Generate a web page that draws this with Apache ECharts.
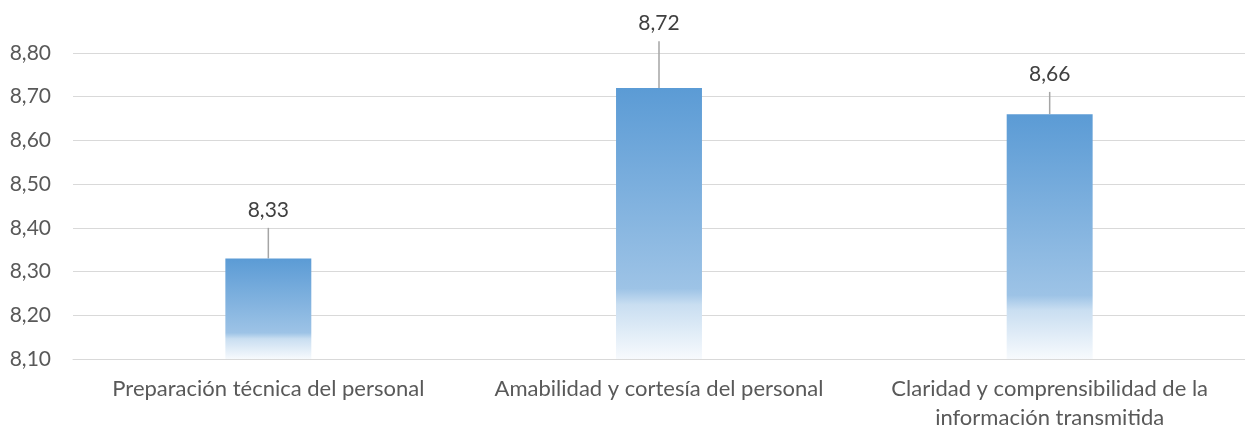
<!DOCTYPE html>
<html>
<head>
<meta charset="utf-8">
<style>
  html, body { margin: 0; padding: 0; background: #fff; }
  #chart { width: 1245px; height: 429px; }
</style>
<script src="https://cdn.jsdelivr.net/npm/echarts@6/dist/echarts.min.js"></script>
</head>
<body>
<div id="chart"></div>
<script>
// categorias y valores
const categories = [
  'Preparación técnica del personal',
  'Amabilidad y cortesía del personal',
  'Claridad y comprensibilidad de la\ninformación transmitida'
]
const scores = [8.33, 8.72, 8.66]
// hasta donde sube la linea guia de cada etiqueta
const leaderTops = [8.40, 8.827, 8.711]

const fontFamily = 'Lato, "Open Sans", sans-serif'
const textColor = '#595959'

const chart = echarts.init(document.getElementById('chart'))

chart.setOption({
  animation: false,
  grid: {
    left: 73,
    right: 0,
    top: 53,
    bottom: 70,
    outerBoundsMode: 'none'
  },
  xAxis: {
    type: 'category',
    data: categories,
    axisTick: { show: false },
    axisLine: { lineStyle: { color: '#D9D9D9' } },
    axisLabel: {
      color: textColor,
      fontFamily: fontFamily,
      fontSize: 22,
      lineHeight: 29,
      margin: 15,
      interval: 0
    }
  },
  yAxis: {
    type: 'value',
    min: 8.1,
    max: 8.8,
    interval: 0.1,
    axisLine: { show: false },
    axisTick: { show: false },
    splitLine: { lineStyle: { color: '#D9D9D9', width: 1 } },
    axisLabel: {
      color: textColor,
      fontFamily: fontFamily,
      fontSize: 21,
      margin: 22,
      formatter: v => v.toFixed(2).replace('.', ',')
    }
  },
  series: [
    {
      type: 'bar',
      data: scores,
      barWidth: '22%',
      itemStyle: {
        color: new echarts.graphic.LinearGradient(0, 0, 0, 1, [
          { offset: 0, color: '#5B9BD5' },
          { offset: 0.74, color: '#9DC3E6' },
          { offset: 0.8, color: '#C9DEF1' },
          { offset: 1, color: '#F7FAFD' }
        ])
      }
    },
    {
      // linea guia y etiqueta encima de cada barra
      type: 'custom',
      data: scores.map((v, i) => [i, v, leaderTops[i]]),
      renderItem(params, api) {
        const base = api.coord([api.value(0), api.value(1)])
        const top = api.coord([api.value(0), api.value(2)])
        return {
          type: 'group',
          children: [
            {
              type: 'line',
              shape: { x1: base[0], y1: base[1], x2: top[0], y2: top[1] },
              style: { stroke: '#A5A5A5', lineWidth: 1.5 }
            },
            {
              type: 'text',
              x: top[0],
              y: top[1] - 7,
              style: {
                text: api.value(1).toFixed(2).replace('.', ','),
                fill: '#404040',
                font: '21px ' + fontFamily,
                align: 'center',
                verticalAlign: 'bottom'
              }
            }
          ]
        }
      }
    }
  ]
})
</script>
</body>
</html>
